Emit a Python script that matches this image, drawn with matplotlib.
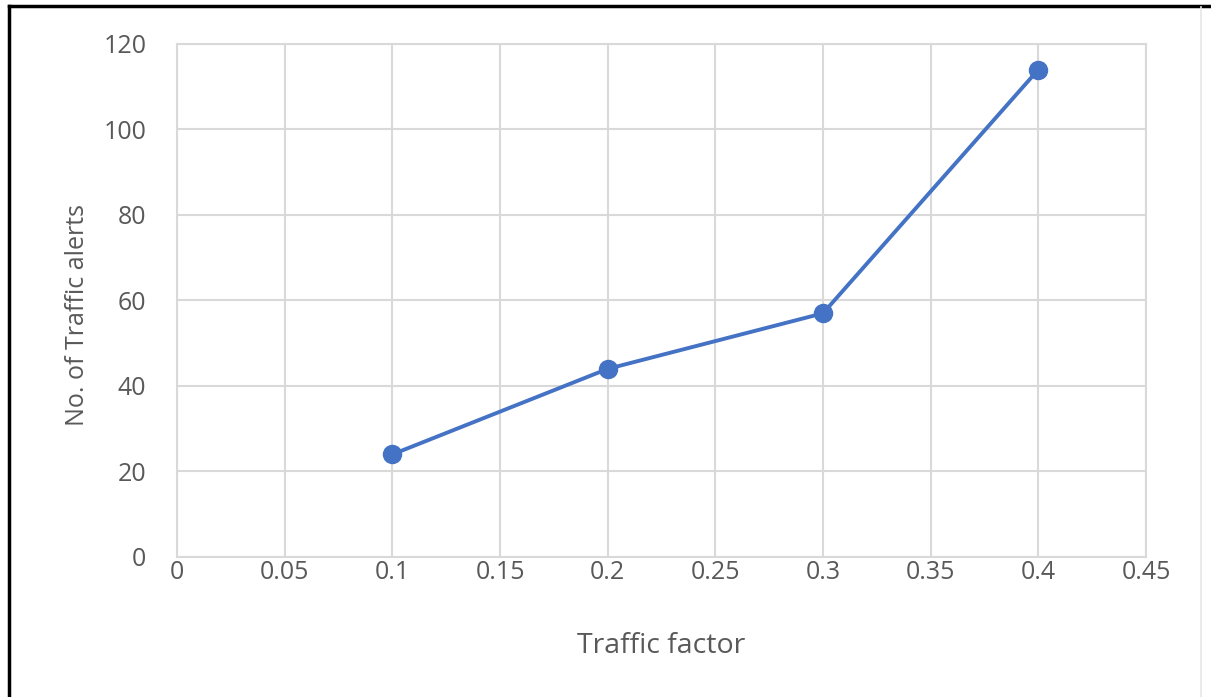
import matplotlib
matplotlib.use("Agg")
import matplotlib.pyplot as plt
from matplotlib.lines import Line2D

# Data
traffic_factor = [0.1, 0.2, 0.3, 0.4]
traffic_alerts = [24, 44, 57, 114]
x_ticks = [0, 0.05, 0.1, 0.15, 0.2, 0.25, 0.3, 0.35, 0.4, 0.45]
x_tick_labels = ["0", "0.05", "0.1", "0.15", "0.2", "0.25", "0.3", "0.35", "0.4", "0.45"]
y_ticks = [0, 20, 40, 60, 80, 100, 120]

plt.rcParams['font.family'] = ['Open Sans', 'DejaVu Sans']

fig = plt.figure(figsize=(12.11, 6.97), dpi=100)
ax = fig.add_axes([0.1462, 0.2009, 0.8001, 0.736])

grid_color = "#d9d9d9"
text_color = "#595959"
line_color = "#4472C4"

ax.plot(traffic_factor, traffic_alerts, color=line_color, linewidth=2.8,
        marker="o", markersize=13, markerfacecolor=line_color,
        markeredgecolor=line_color, zorder=3)

ax.set_xlim(0, 0.45)
ax.set_ylim(0, 120)
ax.set_xticks(x_ticks)
ax.set_xticklabels(x_tick_labels)
ax.set_yticks(y_ticks)
ax.grid(True, color=grid_color, linewidth=1.5)
ax.tick_params(length=0, labelsize=18, labelcolor=text_color)
ax.tick_params(axis="x", pad=2)
ax.tick_params(axis="y", pad=22)
for s in ax.spines.values():
    s.set_color(grid_color)
    s.set_linewidth(1.5)

ax.set_xlabel("Traffic factor", fontsize=20.5, color=text_color, labelpad=34)
ax.set_ylabel("No. of Traffic alerts", fontsize=18, color=text_color, labelpad=10)
ax.yaxis.label.set_y(0.472)

# Outer frame
fig.add_artist(Line2D([0.0075, 0.0075], [0, 0.9914], transform=fig.transFigure,
                      color="black", linewidth=2.5))
fig.add_artist(Line2D([0.0075, 1.0], [0.9914, 0.9914], transform=fig.transFigure,
                      color="black", linewidth=2.5))
fig.add_artist(Line2D([0.9918, 0.9918], [0, 0.99], transform=fig.transFigure,
                      color="#e6e6e6", linewidth=1.2))

fig.savefig("out.png", dpi=100)
